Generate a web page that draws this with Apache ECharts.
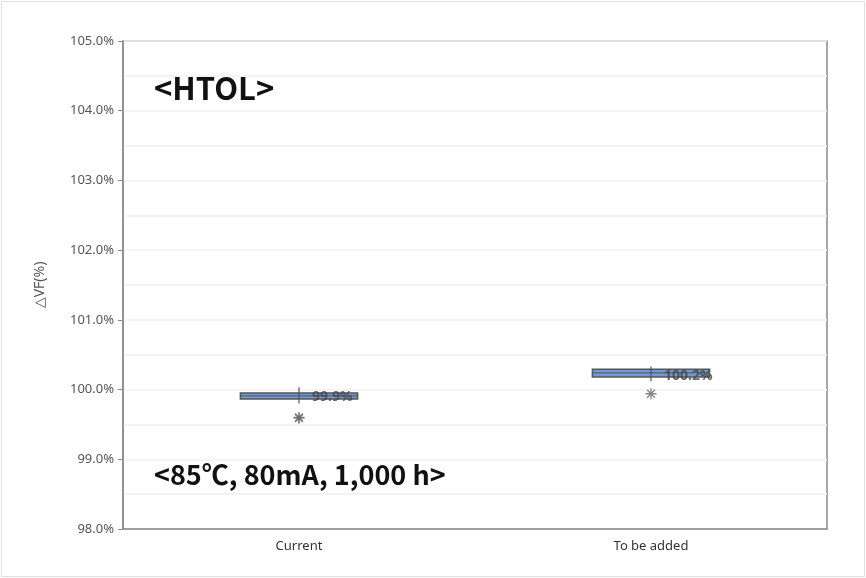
<!DOCTYPE html>
<html><head><meta charset="utf-8">
<script src="https://cdn.jsdelivr.net/npm/echarts@6/dist/echarts.min.js"></script>
<style>html,body{margin:0;padding:0;background:#fff}#c{width:866px;height:578px}</style>
</head><body><div id="c"></div>
<script>
const categories = ['Current', 'To be added'];
const whiskerLow = [99.80, 100.12];
const q1 = [99.865, 100.18];
const median = [99.91, 100.24];
const q3 = [99.95, 100.29];
const whiskerHigh = [100.035, 100.33];
const outliers = [[0, 99.59], [0, 99.60], [1, 99.94]];
const means = [99.89, 100.19];
const yTicks = [98, 99, 100, 101, 102, 103, 104, 105];

const boxData = categories.map((c, i) => [i, whiskerLow[i], q1[i], median[i], q3[i], whiskerHigh[i]]);
const meanData = categories.map((c, i) => [i, means[i]]);
const starPath = 'path://M4.4,0 H5.6 V10 H4.4 Z M0,4.4 H10 V5.6 H0 Z M1,1.85 L1.85,1 L9,8.15 L8.15,9 Z M8.15,1 L9,1.85 L1.85,9 L1,8.15 Z';

const chart = echarts.init(document.getElementById('c'));
chart.setOption({
  animation: false,
  backgroundColor: '#fff',
  grid: { left: 123, right: 39, top: 41, bottom: 49, show: true, borderColor: '#8a8a8a', borderWidth: 1.5 },
  xAxis: {
    type: 'category', data: categories,
    axisLine: { lineStyle: { color: '#8a8a8a', width: 1.5 } },
    axisTick: { alignWithLabel: true, length: 3, lineStyle: { color: '#8a8a8a' } },
    axisLabel: { color: '#333', fontSize: 13, fontFamily: 'Noto Sans', margin: 11 },
    splitLine: { show: false }
  },
  yAxis: {
    type: 'value', min: yTicks[0], max: yTicks[yTicks.length - 1], interval: 1,
    name: '△VF(%)', nameLocation: 'middle', nameGap: 76,
    nameTextStyle: { color: '#555', fontSize: 14, fontFamily: 'Noto Sans' },
    axisLine: { show: true, lineStyle: { color: '#8a8a8a', width: 1.5 } },
    axisTick: { show: true, length: 5, lineStyle: { color: '#8a8a8a' } },
    axisLabel: { color: '#555', fontSize: 13, fontFamily: 'Noto Sans', margin: 9, formatter: v => v.toFixed(1) + '%' },
    splitLine: { show: true, lineStyle: { color: '#f0f0f0', width: 1.5 } },
    minorTick: { show: false, splitNumber: 2 },
    minorSplitLine: { show: true, lineStyle: { color: '#f0f0f0', width: 1.5 } }
  },
  series: [
    {
      type: 'custom',
      data: boxData,
      z: 3,
      renderItem: function (params, api) {
        const x = api.value(0);
        const pLow = api.coord([x, api.value(1)]);
        const pQ1 = api.coord([x, api.value(2)]);
        const pMed = api.coord([x, api.value(3)]);
        const pQ3 = api.coord([x, api.value(4)]);
        const pHigh = api.coord([x, api.value(5)]);
        const w = api.size([1, 0])[0] * 0.333;
        const cx = pQ1[0];
        return {
          type: 'group',
          children: [
            { type: 'rect', shape: { x: cx - w / 2, y: pQ3[1], width: w, height: pQ1[1] - pQ3[1] },
              style: { fill: '#7199d3', stroke: '#555', lineWidth: 1.5 } },
            { type: 'line', shape: { x1: cx - w / 2, y1: pMed[1], x2: cx + w / 2, y2: pMed[1] },
              style: { stroke: '#555', lineWidth: 1 } },
            { type: 'line', shape: { x1: cx, y1: pHigh[1], x2: cx, y2: pLow[1] },
              style: { stroke: '#555', lineWidth: 1.2 } }
          ]
        };
      }
    },
    {
      type: 'scatter', data: outliers, symbol: starPath, symbolSize: 11, z: 4,
      itemStyle: { color: '#666' }
    },
    {
      type: 'scatter', data: meanData, symbolSize: 0, z: 5,
      label: { show: true, position: 'right', distance: 13, color: '#444', fontSize: 14, fontWeight: 'bold', fontFamily: 'Noto Sans',
        formatter: p => p.value[1].toFixed(1) + '%' }
    }
  ],
  graphic: [
    { type: 'rect', shape: { x: 1.5, y: 1.5, width: 863, height: 575 }, style: { fill: 'none', stroke: '#e0e0e0', lineWidth: 1 }, silent: true },
    { type: 'text', left: 154, top: 73, z: 10, style: { text: '<HTOL>', fill: '#111', font: 'bold 31px "Noto Sans CJK KR"' } },
    { type: 'text', left: 154, top: 461, z: 10, style: { text: '<85℃, 80mA, 1,000 h>', fill: '#111', font: 'bold 27px "Noto Sans CJK KR"' } }
  ]
});
</script></body></html>
